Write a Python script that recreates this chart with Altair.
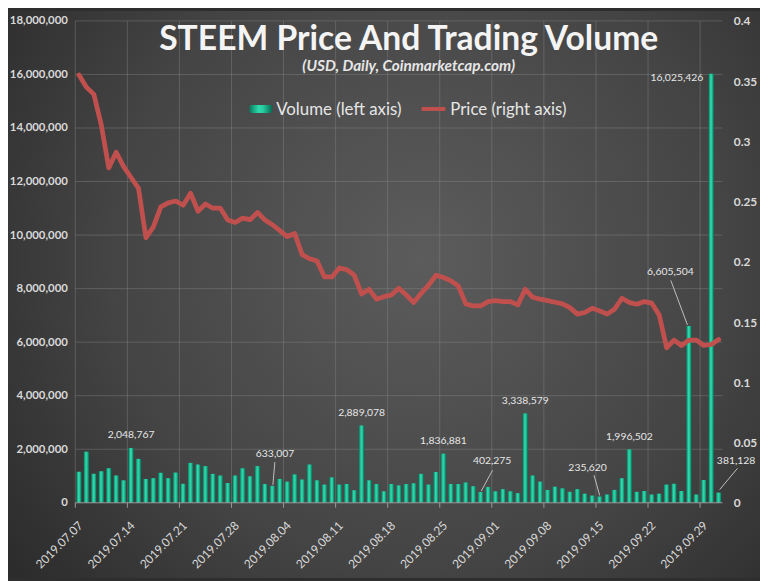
import altair as alt
import pandas as pd

# ---------------- data ----------------
dates = list(pd.date_range("2019-07-07", "2019-10-01", freq="D").strftime("%Y.%m.%d"))

volume = [
    1160000, 1910000, 1080000, 1180000, 1290000, 1020000, 840000, 2048767, 1640000, 890000,
    920000, 1120000, 920000, 1130000, 710000, 1490000, 1430000, 1370000, 1080000, 1020000,
    740000, 1020000, 1290000, 990000, 1370000,
    700000, 633007, 890000, 790000, 1060000, 870000, 1430000, 840000, 680000, 950000,
    680000, 700000, 470000, 2889078, 840000, 700000, 430000, 700000, 650000, 700000,
    730000, 1080000, 680000, 1150000, 1836881, 700000, 700000, 760000, 620000, 402275,
    590000,
    430000, 510000, 430000, 360000, 3338579, 1020000, 790000, 480000, 600000, 540000,
    410000, 510000, 340000, 270000, 235620, 310000, 480000, 920000, 1996502, 410000,
    440000, 310000, 340000, 680000, 710000, 440000, 6605504, 310000, 850000, 16025426,
    381128,
]

price = [
    0.355, 0.345, 0.339, 0.3135, 0.278, 0.291, 0.279, 0.270, 0.261, 0.220,
    0.229, 0.2456, 0.249, 0.2505, 0.247, 0.257, 0.242, 0.248, 0.2445, 0.2445,
    0.2347, 0.2327, 0.2363, 0.235, 0.241,
    0.2347, 0.2308, 0.2259, 0.221, 0.2235, 0.206, 0.2026, 0.2007, 0.1875, 0.1875,
    0.1949, 0.1936, 0.1889, 0.1733, 0.1772, 0.169, 0.1711, 0.1725, 0.178, 0.1725,
    0.1662, 0.1739, 0.1807, 0.1889, 0.187, 0.1842, 0.1799, 0.1651, 0.1634, 0.1634,
    0.167,
    0.1678, 0.167, 0.167, 0.1643, 0.1772, 0.1706, 0.169, 0.1678, 0.1665, 0.1651,
    0.162, 0.1566, 0.158, 0.1615, 0.1593, 0.1566, 0.1607, 0.1698, 0.1662, 0.1648,
    0.167, 0.1657, 0.156, 0.1287, 0.135, 0.1306, 0.135, 0.135, 0.1306, 0.1314,
    0.1355,
]

week_ticks = dates[::7]
vol_ticks = [0, 2000000, 4000000, 6000000, 8000000, 10000000, 12000000, 14000000, 16000000, 18000000]
price_ticks = [0, 0.05, 0.1, 0.15, 0.2, 0.25, 0.3, 0.35, 0.4]

title_text = "STEEM Price And Trading Volume"
subtitle_text = "(USD, Daily, Coinmarketcap.com)"
legend_volume = "Volume (left axis)"
legend_price = "Price (right axis)"

df = pd.DataFrame({"date": dates, "volume": volume, "price": price})
weeks = pd.DataFrame({"date": week_ticks})
one = pd.DataFrame({"k": [0]})

# ---------------- layout / style ----------------
W, H = 654, 487
PL, PT, PR, PB = 68, 10, 38, 76
FONT = "Lato"
TXT = "#e6e6e6"
AXIS_TXT = "#d9d9d9"
AXIS_LINE = "#9a9a9a"
LINE_COLOR = "#c0504d"

x_scale = alt.Scale(domain=dates, paddingInner=0, paddingOuter=0)
vol_scale = alt.Scale(domain=[0, 18000000])
price_scale = alt.Scale(domain=[0, 0.4])

bar_fill = alt.LinearGradient(
    gradient="linear",
    stops=[
        alt.GradientStop(offset=0, color="#08785c"),
        alt.GradientStop(offset=0.4, color="#2fd9ad"),
        alt.GradientStop(offset=0.6, color="#27cca0"),
        alt.GradientStop(offset=1, color="#076650"),
    ],
    x1=0, x2=1, y1=0, y2=0,
)

bg = alt.Chart(one).mark_rect(
    fill=alt.RadialGradient(
        gradient="radial",
        stops=[
            alt.GradientStop(offset=0, color="#5c5c5c"),
            alt.GradientStop(offset=0.55, color="#444444"),
            alt.GradientStop(offset=1, color="#262626"),
        ],
        x1=0.55, y1=0.45, x2=0.55, y2=0.45, r1=0, r2=0.75,
    )
).encode(
    x=alt.value(-PL), x2=alt.value(W + PR), y=alt.value(-PT), y2=alt.value(H + PB)
)

grid_style = dict(color="#8c8c8c", strokeWidth=1, opacity=0.4)

vgrid = alt.Chart(weeks).mark_rule(**grid_style).encode(
    x=alt.X("date:O", scale=x_scale, bandPosition=0, axis=None)
)

hgrid = alt.Chart(pd.DataFrame({"v": vol_ticks[1:]})).mark_rule(**grid_style).encode(
    y=alt.Y("v:Q", scale=vol_scale, axis=None)
)

bars = alt.Chart(df).mark_bar(width=alt.RelativeBandSize(band=0.72), fill=bar_fill).encode(
    x=alt.X("date:O", scale=x_scale, axis=None),
    y=alt.Y(
        "volume:Q",
        scale=vol_scale,
        title=None,
        axis=alt.Axis(
            orient="left", values=vol_ticks, format=",d", ticks=False, domain=False,
            grid=False, labelFont=FONT, labelFontSize=11.5, labelFontWeight="bold",
            labelColor=AXIS_TXT, labelPadding=8, zindex=1,
        ),
    ),
)

line = alt.Chart(df).mark_line(
    color=LINE_COLOR, strokeWidth=4.8, strokeJoin="round", strokeCap="round"
).encode(
    x=alt.X("date:O", scale=x_scale, axis=None),
    y=alt.Y(
        "price:Q",
        scale=price_scale,
        title=None,
        axis=alt.Axis(
            orient="right", values=price_ticks, format="~g", ticks=False, domain=False,
            grid=False, labelFont=FONT, labelFontSize=12, labelFontWeight="bold",
            labelColor=AXIS_TXT, labelPadding=11, zindex=1,
        ),
    ),
)

# bottom (date) axis: domain line, weekly ticks and rotated labels
x_domain = alt.Chart(one).mark_rule(color=AXIS_LINE, strokeWidth=1).encode(
    x=alt.value(0), x2=alt.value(W), y=alt.value(H)
)
x_ticks = alt.Chart(weeks).mark_rule(color=AXIS_LINE, strokeWidth=1).encode(
    x=alt.X("date:O", scale=x_scale, bandPosition=0, axis=None),
    y=alt.value(H), y2=alt.value(H + 5),
)
x_labels = alt.Chart(weeks).mark_text(
    angle=315, align="right", baseline="middle", font=FONT, fontSize=12, color=AXIS_TXT
).encode(
    x=alt.X("date:O", scale=x_scale, bandPosition=0.75, axis=None),
    y=alt.value(H + 21),
    text=alt.Text("date:N"),
)


def data_label(date, dx, dy, align="center", leader=None):
    base = alt.Chart(df).transform_filter(alt.datum.date == date)
    enc = dict(
        x=alt.X("date:O", scale=x_scale, axis=None),
        y=alt.Y("volume:Q", scale=vol_scale, axis=None),
    )
    out = [
        base.mark_text(
            dx=dx, dy=dy, align=align, baseline="middle", font=FONT, fontSize=10.5, color=TXT
        ).encode(text=alt.Text("volume:Q", format=",d"), **enc)
    ]
    if leader:
        x1, y1, x2, y2 = leader
        out.append(
            base.mark_rule(
                color="#bfbfbf", strokeWidth=1, xOffset=x1, yOffset=y1, x2Offset=x2, y2Offset=y2
            ).encode(x2=alt.X2("date"), y2=alt.Y2("volume"), **enc)
        )
    return out


labels = []
labels += data_label("2019.07.14", 0, -13)
labels += data_label("2019.08.02", 2.7, -32, leader=(0.5, -1, 2.5, -24))
labels += data_label("2019.08.14", 0, -13)
labels += data_label("2019.08.25", 0, -13)
labels += data_label("2019.08.30", 11.6, -31, leader=(0.6, -1, 12, -22))
labels += data_label("2019.09.05", 0, -13)
labels += data_label("2019.09.15", -12.2, -29, leader=(0, -1, -5.7, -21.5))
labels += data_label("2019.09.19", 0, -12)
labels += data_label("2019.09.27", -18.7, -54, leader=(-1.5, -1, -18.3, -46))
labels += data_label("2019.09.30", -8, 4.6, align="right")
labels += data_label("2019.10.01", 17.6, -32, leader=(1, -3, 19, -24.5))

title = alt.Chart(one).mark_text(
    text=title_text, font=FONT, fontSize=34, fontWeight="bold", color="#f4f4f4",
    align="center", baseline="alphabetic",
).encode(x=alt.value(337), y=alt.value(29))

subtitle = alt.Chart(one).mark_text(
    text=subtitle_text, font=FONT, fontSize=15.5, fontWeight="bold", fontStyle="italic",
    color=TXT, align="center", baseline="alphabetic",
).encode(x=alt.value(337), y=alt.value(51))

leg_bar = alt.Chart(one).mark_rect(fill=bar_fill, cornerRadius=2).encode(
    x=alt.value(176), x2=alt.value(199), y=alt.value(85), y2=alt.value(93)
)
leg_bar_text = alt.Chart(one).mark_text(
    text=legend_volume, font=FONT, fontSize=17, color=TXT, align="left", baseline="alphabetic"
).encode(x=alt.value(203), y=alt.value(95))
leg_line = alt.Chart(one).mark_rule(color=LINE_COLOR, strokeWidth=4).encode(
    x=alt.value(350), x2=alt.value(374), y=alt.value(89)
)
leg_line_text = alt.Chart(one).mark_text(
    text=legend_price, font=FONT, fontSize=17, color=TXT, align="left", baseline="alphabetic"
).encode(x=alt.value(379), y=alt.value(95))

chart = (
    alt.layer(
        bg, vgrid, hgrid, bars, line, x_domain, x_ticks, x_labels, *labels,
        title, subtitle, leg_bar, leg_bar_text, leg_line, leg_line_text,
    )
    .resolve_scale(y="independent")
    .properties(
        width=W,
        height=H,
        padding={"left": PL, "top": PT, "right": PR, "bottom": PB},
        autosize=alt.AutoSizeParams(type="none"),
        background="#2e2e2e",
    )
    .configure_view(stroke=None)
)

chart.save("out.html", embed_options={"renderer": "svg", "actions": False})
